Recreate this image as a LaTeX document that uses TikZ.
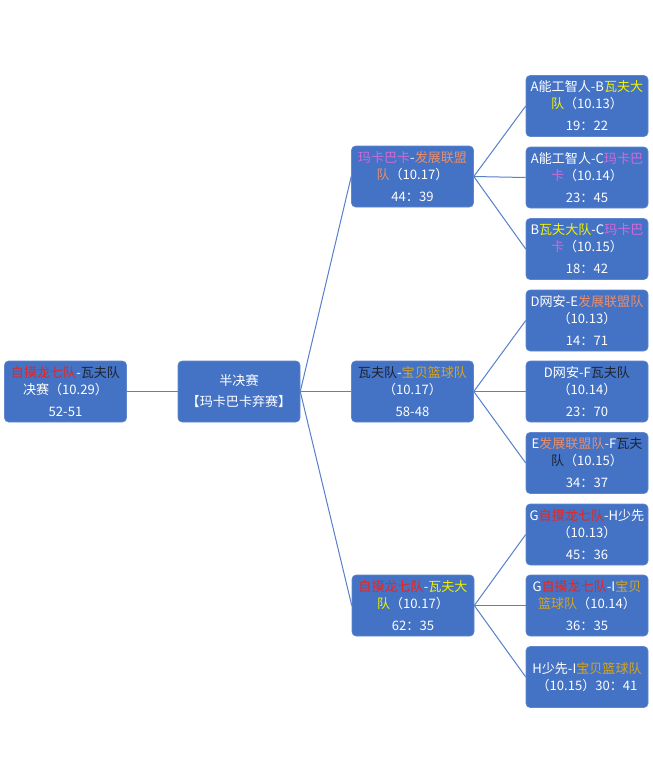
\documentclass[tikz,border=0pt]{standalone}
\usepackage{fontspec}
\setmainfont{Noto Sans CJK SC}
\usepackage{xcolor}
\usetikzlibrary{positioning}

\definecolor{boxblue}{HTML}{4472C4}
\definecolor{zmred}{HTML}{E8251F}
\definecolor{wfdark}{HTML}{1C2433}
\definecolor{wdyellow}{HTML}{F2F200}
\definecolor{mkpink}{HTML}{D469D9}
\definecolor{fzorange}{HTML}{E98E6C}
\definecolor{bbgold}{HTML}{D6A520}

\newcommand{\tzm}[1]{\textcolor{zmred}{#1}}
\newcommand{\twf}[1]{\textcolor{wfdark}{#1}}
\newcommand{\twd}[1]{\textcolor{wdyellow}{#1}}
\newcommand{\tmk}[1]{\textcolor{mkpink}{#1}}
\newcommand{\tfz}[1]{\textcolor{fzorange}{#1}}
\newcommand{\tbb}[1]{\textcolor{bbgold}{#1}}

\begin{document}
\begin{tikzpicture}[x=0.75pt,y=-0.75pt,
            game/.style={rectangle, rounded corners=3pt, fill=boxblue, draw=boxblue!85!white, text=white,
                         align=center, inner sep=0pt, minimum width=91.5pt, minimum height=45.75pt,
                         font=\fontsize{9.8}{12.75}\selectfont},
            link/.style={draw=boxblue!90!white, line width=0.75pt}]

            \fill[white] (0,0) rectangle (653,783);
            \useasboundingbox (0,0) rectangle (653,783);

            % Final and semi final
            \node[game] (final) at (65.5,391.5) {\tzm{自摸龙七队}-\twf{瓦夫队}\\决赛（10.29）\\[3.75pt]52-51};
            \node[game] (semi) at (239,391.5) {半决赛\\[3pt]【玛卡巴卡弃赛】};

            % Group finals
            \node[game] (qfa) at (412.5,176.5) {\tmk{玛卡巴卡}-\tfz{发展联盟}\\\tfz{队}（10.17）\\[3.75pt]44：39};
            \node[game] (qfb) at (412.5,391.5) {\twf{瓦夫队}-\tbb{宝贝篮球队}\\（10.17）\\[3.75pt]58-48};
            \node[game] (qfc) at (413,605.5) {\tzm{自摸龙七队}-\twd{瓦夫大}\\\twd{队}（10.17）\\[3.75pt]62：35};

            % Group matches
            \node[game] (ra) at (587,106) {A能工智人-B\twd{瓦夫大}\\\twd{队}（10.13）\\[3.75pt]19：22};
            \node[game] (rb) at (587,177.5) {A能工智人-C\tmk{玛卡巴}\\\tmk{卡}（10.14）\\[3.75pt]23：45};
            \node[game] (rc) at (587,249) {B\twd{瓦夫大队}-C\tmk{玛卡巴}\\\tmk{卡}（10.15）\\[3.75pt]18：42};
            \node[game] (rd) at (587,320.5) {D网安-E\tfz{发展联盟队}\\（10.13）\\[3.75pt]14：71};
            \node[game] (re) at (587,391.5) {D网安-F\twf{瓦夫队}\\（10.14）\\[3.75pt]23：70};
            \node[game] (rf) at (587,463) {E\tfz{发展联盟队}-F\twf{瓦夫}\\\twf{队}（10.15）\\[3.75pt]34：37};
            \node[game] (rg) at (587,534.5) {G\tzm{自摸龙七队}-H少先\\（10.13）\\[3.75pt]45：36};
            \node[game] (rh) at (587,605.5) {G\tzm{自摸龙七队}-I\tbb{宝贝}\\\tbb{篮球队}（10.14）\\[3.75pt]36：35};
            \node[game] (ri) at (587,677) {H少先-I\tbb{宝贝篮球队}\\（10.15）30：41};

            % Connections
            \draw[link] (final.east) -- (semi.west);
            \draw[link] (semi.east) -- (qfa.west);
            \draw[link] (semi.east) -- (qfb.west);
            \draw[link] (semi.east) -- (qfc.west);

            \draw[link] (qfa.east) -- (ra.west);
            \draw[link] (qfa.east) -- (rb.west);
            \draw[link] (qfa.east) -- (rc.west);
            \draw[link] (qfb.east) -- (rd.west);
            \draw[link] (qfb.east) -- (re.west);
            \draw[link] (qfb.east) -- (rf.west);
            \draw[link] (qfc.east) -- (rg.west);
            \draw[link] (qfc.east) -- (rh.west);
            \draw[link] (qfc.east) -- (ri.west);
        \end{tikzpicture}
\end{document}
